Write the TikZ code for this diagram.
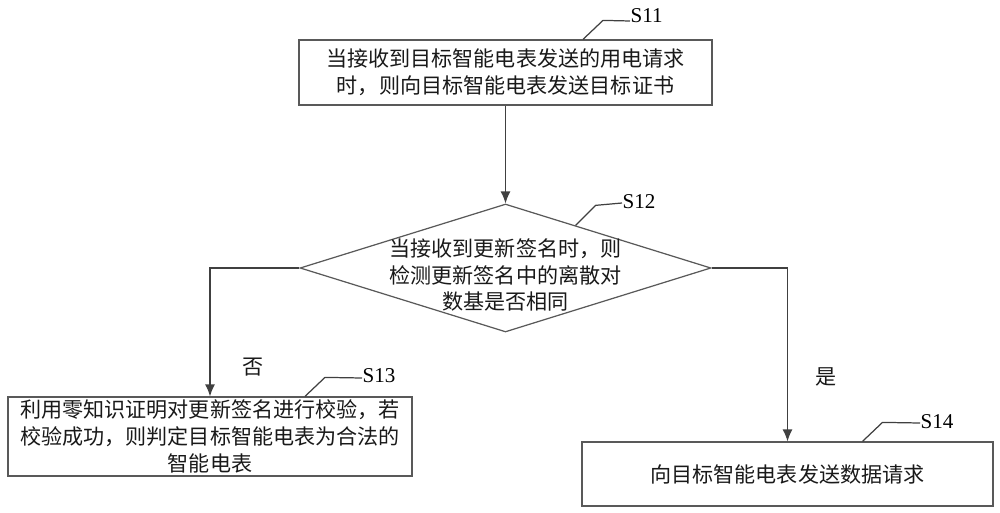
\documentclass[tikz,border=0pt]{standalone}
\usepackage{fontspec}
\setmainfont{Liberation Serif}
\newfontfamily\cjk{Noto Sans CJK SC}
\usetikzlibrary{shapes.geometric,arrows.meta,calc}

\begin{document}
\begin{tikzpicture}[x=0.02cm,y=-0.02cm,line width=0.7pt,
  txt/.style={font=\cjk\fontsize{12}{15.3}\selectfont,text=black!90,align=center,inner sep=0pt},
  stepbox/.style={txt,draw=black!65,rectangle},
  decision/.style={draw=black!65,diamond,inner sep=0pt,minimum width=8.22cm,minimum height=2.56cm},
  steplabel/.style={font=\fontsize{12}{14}\selectfont,inner sep=0pt,anchor=west},
  flow/.style={draw=black!75,-{Latex[length=2.4mm,width=2mm]}},
  leader/.style={draw=black!75}]
\useasboundingbox (0,0) rectangle (1000,513);

\node[stepbox,minimum width=8.26cm,minimum height=1.3cm] (s11) at (505.5,72.5)
  {当接收到目标智能电表发送的用电请求\\时，则向目标智能电表发送目标证书};
\node[decision] (s12) at (505.5,268) {};
\node[txt] (q12) at (505.5,275) {当接收到更新签名时，则\\检测更新签名中的离散对\\数基是否相同};
\node[stepbox,minimum width=8.08cm,minimum height=1.58cm] (s13) at (210,436.5)
  {利用零知识证明对更新签名进行校验，若\\校验成功，则判定目标智能电表为合法的\\智能电表};
\node[stepbox,minimum width=8.22cm,minimum height=1.28cm] (s14) at (787.5,474)
  {向目标智能电表发送数据请求};

\node[txt] (no) at (253,367) {否};
\node[txt] (yes) at (826,377) {是};

\draw[flow] (s11.south) -- (s12.north);
\draw[flow] (s12.west) -| (s13.north);
\draw[flow] (s12.east) -| (s14.north);

\node[steplabel] (l11) at (630,16) {S11};
\node[steplabel] (l12) at (622,202) {S12};
\node[steplabel] (l13) at (362,376) {S13};
\node[steplabel] (l14) at (920,422) {S14};

\draw[leader] ([xshift=1.55cm]s11.north) -- ++(20,-19) -- (l11.west |- 0,21);
\draw[leader] ($(s12.north)!0.34!(s12.east)$) -- ++(20,-20) -- (l12.west |- 0,203);
\draw[leader] ([xshift=1.9cm]s13.north) -- ++(20,-19) -- (l13.west |- 0,378);
\draw[leader] ([xshift=1.5cm]s14.north) -- ++(20,-19) -- (l14.west |- 0,423);
\end{tikzpicture}
\end{document}
